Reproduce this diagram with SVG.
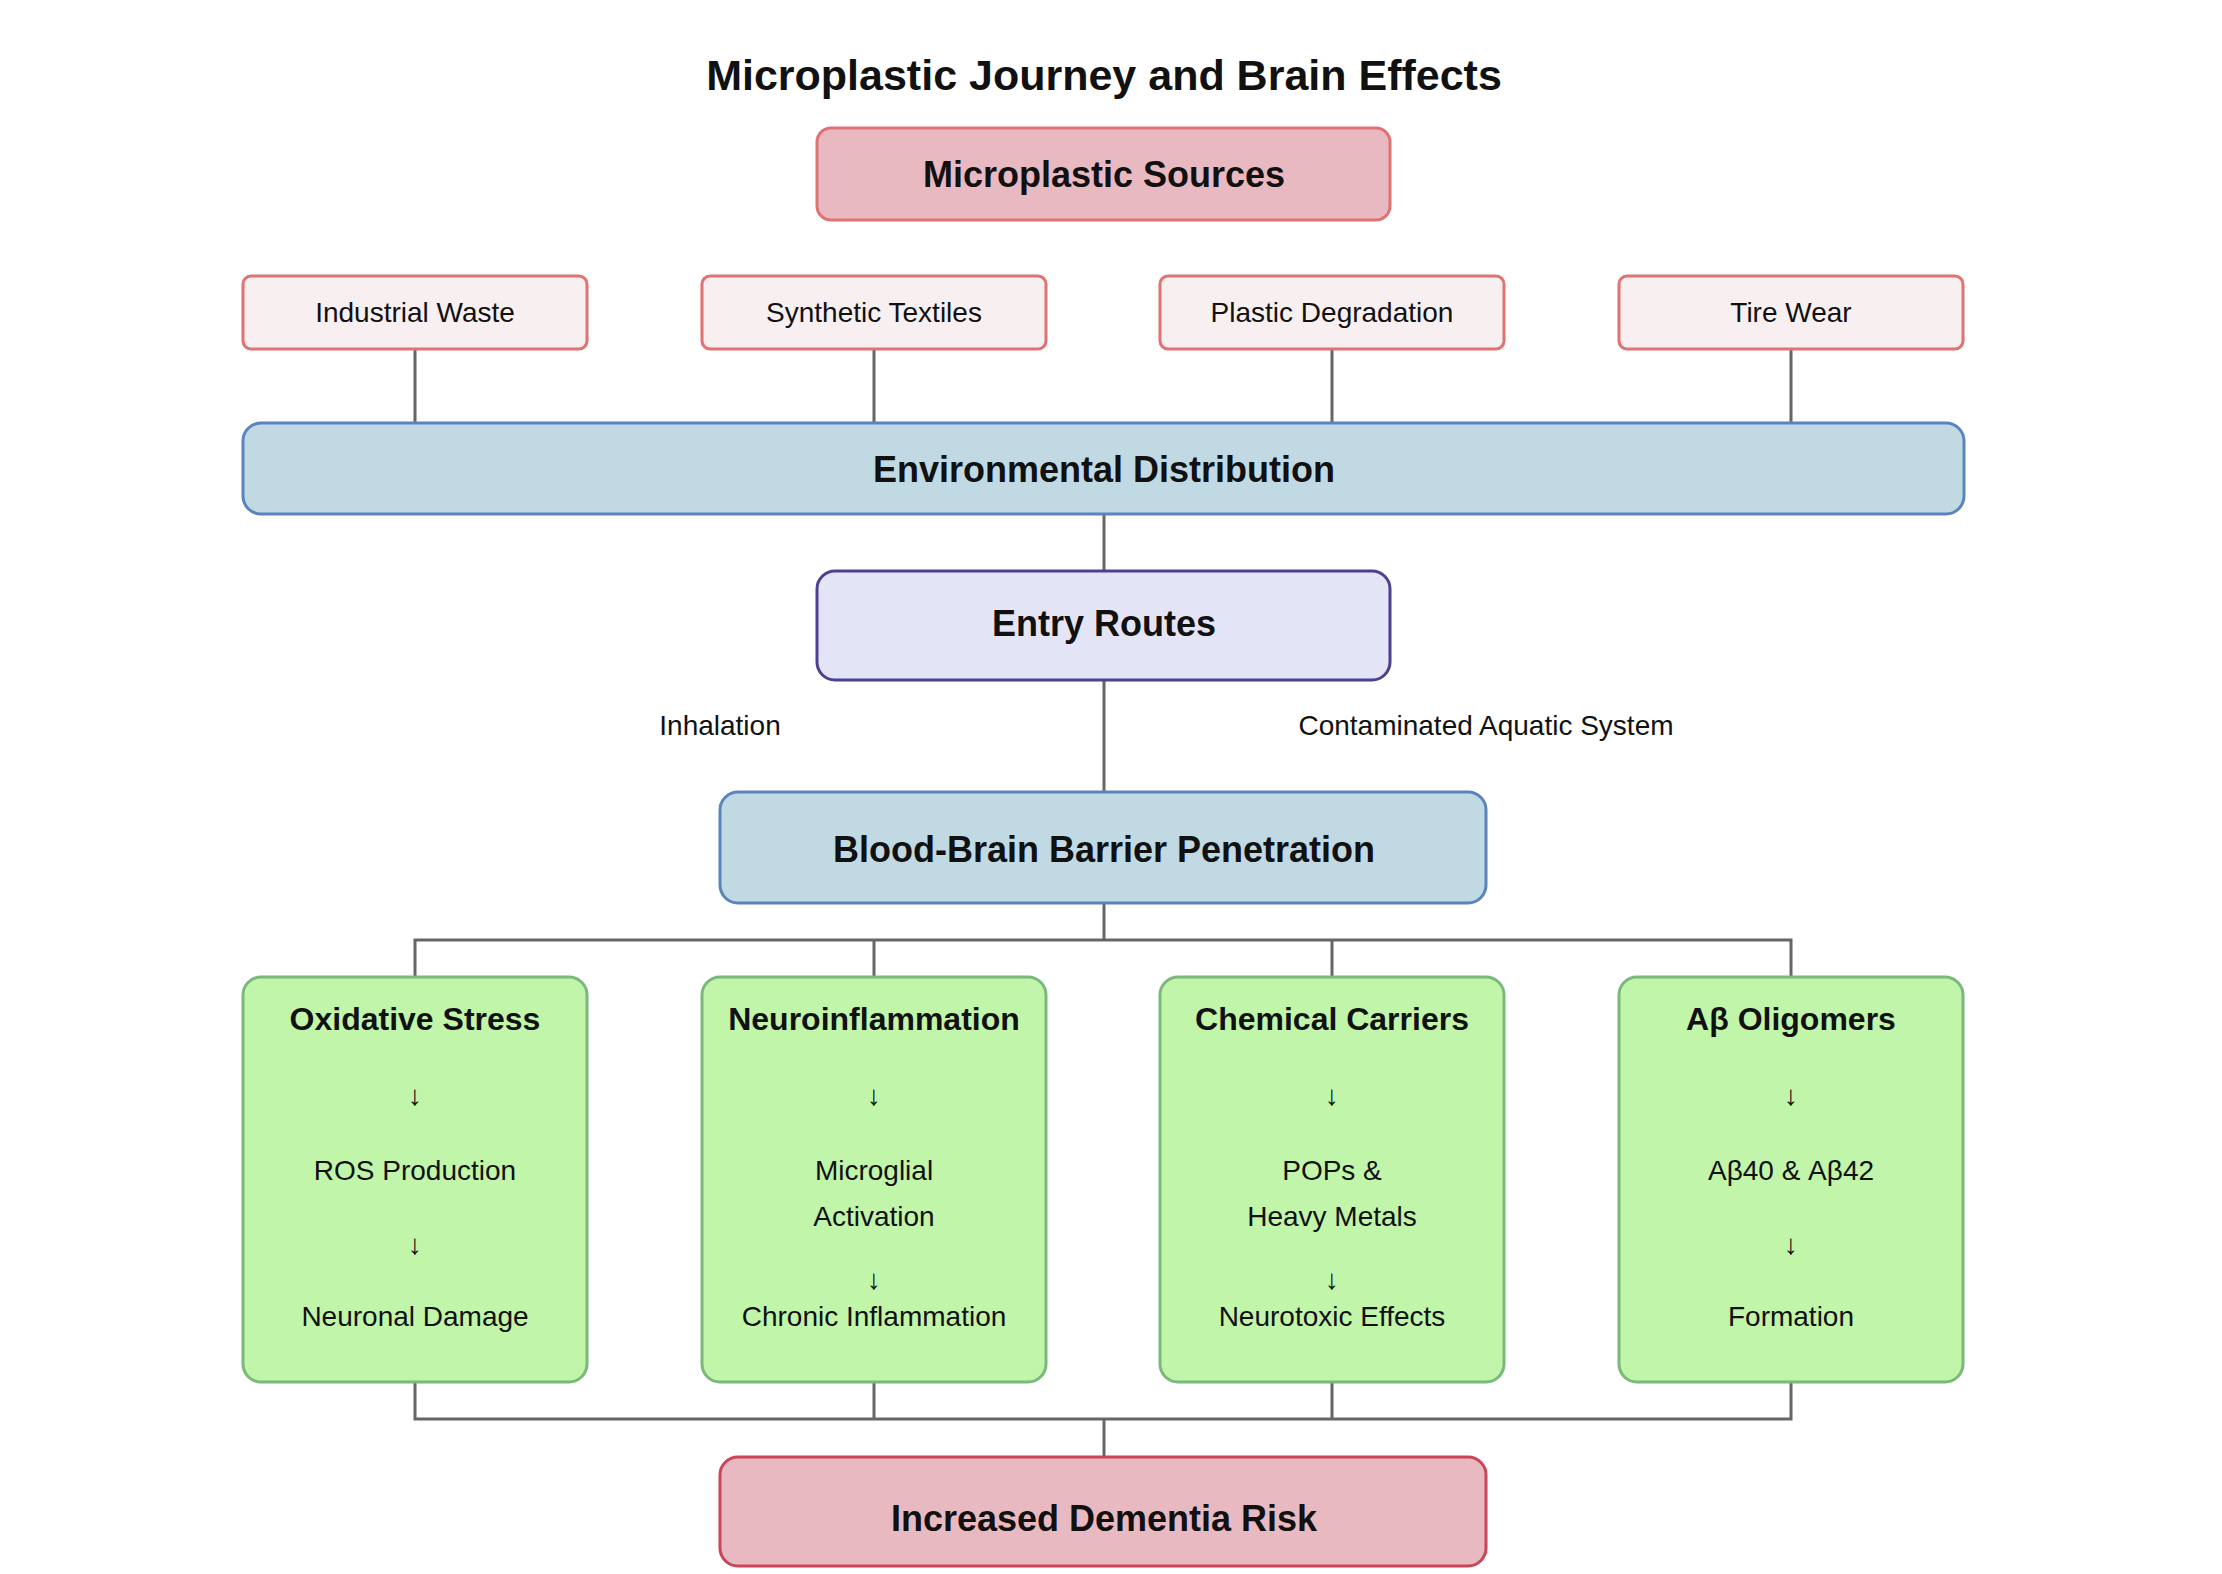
<svg xmlns="http://www.w3.org/2000/svg" width="2222" height="1574" viewBox="0 0 2222 1574">
<style>
text{font-family:"Liberation Sans",Arial,sans-serif;text-anchor:middle;dominant-baseline:central;fill:#111}
.b{font-weight:bold}
.t{font-size:43px;font-weight:bold}
.h{font-size:36px;font-weight:bold}
.s{font-size:28px}
.g{font-size:32px;font-weight:bold}
.src{fill:#f8eff1;stroke:#e07272;stroke-width:3}
.red{fill:#e9b9c1;stroke:#e07272;stroke-width:3}
.blue{fill:#c0d9e3;stroke:#5b83bd;stroke-width:3}
.pur{fill:#e4e4f7;stroke:#4e3f8f;stroke-width:3}
.grn{fill:#c1f5a9;stroke:#7ab87c;stroke-width:3}
.dem{fill:#e9b9c1;stroke:#cc4455;stroke-width:3}
#connectors path{fill:none;stroke:#666;stroke-width:3}
</style>
<rect width="2222" height="1574" fill="#fff"/>
<text class="t" x="1104" y="75">Microplastic Journey and Brain Effects</text>
<g id="connectors">
<path d="M415 349V423M874 349V423M1332 349V423M1791 349V423"/>
<path d="M1104 514V571M1104 680V792"/>
<path d="M1104 903V940M415 977V940H1791V977M874 940V977M1332 940V977"/>
<path d="M415 1382V1419H1791V1382M874 1382V1419M1332 1382V1419M1104 1419V1457"/>
</g>
<g id="sources"><rect class="red" x="817" y="128" width="573" height="92" rx="14"/><text class="h" x="1104" y="174">Microplastic Sources</text></g>
<g id="industrial"><rect class="src" x="243" y="276" width="344" height="73" rx="8"/><text class="s" x="415" y="312">Industrial Waste</text></g>
<g id="textiles"><rect class="src" x="702" y="276" width="344" height="73" rx="8"/><text class="s" x="874" y="312">Synthetic Textiles</text></g>
<g id="degradation"><rect class="src" x="1160" y="276" width="344" height="73" rx="8"/><text class="s" x="1332" y="312">Plastic Degradation</text></g>
<g id="tire"><rect class="src" x="1619" y="276" width="344" height="73" rx="8"/><text class="s" x="1791" y="312">Tire Wear</text></g>
<g id="env"><rect class="blue" x="243" y="423" width="1721" height="91" rx="18"/><text class="h" x="1104" y="469">Environmental Distribution</text></g>
<g id="entry"><rect class="pur" x="817" y="571" width="573" height="109" rx="18"/><text class="h" x="1104" y="623">Entry Routes</text></g>
<text class="s" x="720" y="725">Inhalation</text>
<text class="s" x="1486" y="725">Contaminated Aquatic System</text>
<g id="bbb"><rect class="blue" x="720" y="792" width="766" height="111" rx="18"/><text class="h" x="1104" y="849">Blood-Brain Barrier Penetration</text></g>
<g id="oxidative"><rect class="grn" x="243" y="977" width="344" height="405" rx="18"/>
<text class="g" x="415" y="1019">Oxidative Stress</text><text class="s" x="415" y="1095">↓</text><text class="s" x="415" y="1170">ROS Production</text><text class="s" x="415" y="1244">↓</text><text class="s" x="415" y="1316">Neuronal Damage</text></g>
<g id="neuro"><rect class="grn" x="702" y="977" width="344" height="405" rx="18"/>
<text class="g" x="874" y="1019">Neuroinflammation</text><text class="s" x="874" y="1095">↓</text><text class="s" x="874" y="1170">Microglial</text><text class="s" x="874" y="1216">Activation</text><text class="s" x="874" y="1279">↓</text><text class="s" x="874" y="1316">Chronic Inflammation</text></g>
<g id="chemical"><rect class="grn" x="1160" y="977" width="344" height="405" rx="18"/>
<text class="g" x="1332" y="1019">Chemical Carriers</text><text class="s" x="1332" y="1095">↓</text><text class="s" x="1332" y="1170">POPs &amp;</text><text class="s" x="1332" y="1216">Heavy Metals</text><text class="s" x="1332" y="1279">↓</text><text class="s" x="1332" y="1316">Neurotoxic Effects</text></g>
<g id="abeta"><rect class="grn" x="1619" y="977" width="344" height="405" rx="18"/>
<text class="g" x="1791" y="1019">Aβ Oligomers</text><text class="s" x="1791" y="1095">↓</text><text class="s" x="1791" y="1170">Aβ40 &amp; Aβ42</text><text class="s" x="1791" y="1244">↓</text><text class="s" x="1791" y="1316">Formation</text></g>
<g id="dementia"><rect class="dem" x="720" y="1457" width="766" height="109" rx="18"/><text class="h" x="1104" y="1518">Increased Dementia Risk</text></g>
</svg>
